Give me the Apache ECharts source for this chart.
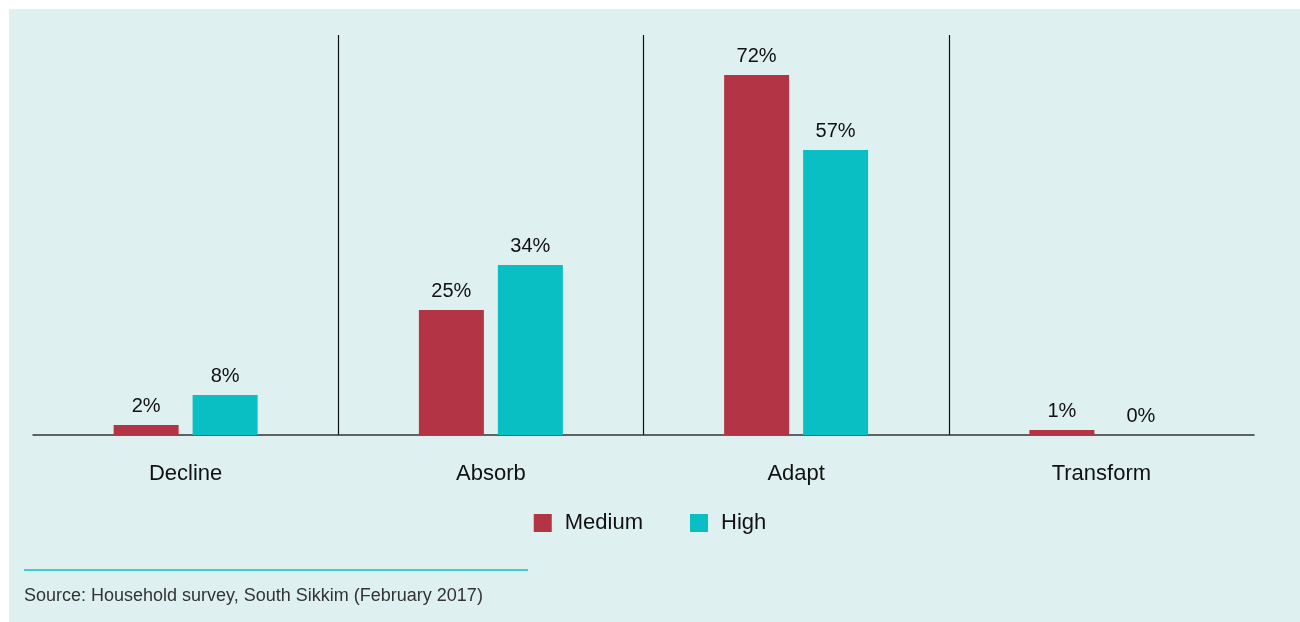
<!DOCTYPE html>
<html>
<head>
<meta charset="utf-8">
<script src="https://cdn.jsdelivr.net/npm/echarts@6/dist/echarts.min.js"></script>
<style>
  html, body { margin: 0; padding: 0; background: #ffffff; }
  #chart { width: 1300px; height: 622px; }
</style>
</head>
<body>
<div id="chart"></div>
<script>
// Resilience outcomes by capacity level (share of households)
const categories = ['Decline', 'Absorb', 'Adapt', 'Transform'];
const mediumValues = [2, 25, 72, 1];
const highValues = [8, 34, 57, 0];
const seriesNames = ['Medium', 'High'];
const sourceText = 'Source: Household survey, South Sikkim (February 2017)';

const FONT = '"Liberation Sans", Arial, Helvetica, sans-serif';
const chart = echarts.init(document.getElementById('chart'), null, { renderer: 'canvas' });

const labelStyle = {
  show: true,
  position: 'top',
  distance: 9,
  color: '#111111',
  fontSize: 20,
  fontFamily: FONT,
  formatter: p => p.value + '%'
};

chart.setOption({
  backgroundColor: 'transparent',
  animation: false,
  graphic: [
    {
      type: 'rect', z: -10, silent: true,
      shape: { x: 9, y: 9, width: 1291, height: 613 },
      style: { fill: '#dff0f0' }
    },
    {
      type: 'line', silent: true,
      shape: { x1: 24, y1: 570, x2: 528, y2: 570 },
      style: { stroke: '#10c0c8', lineWidth: 1.3 }
    },
    {
      type: 'text', silent: true,
      left: 24, top: 587,
      style: { text: sourceText, fill: '#333333', fontSize: 18, fontFamily: FONT }
    }
  ],
  grid: { left: 33, right: 46, top: 35, bottom: 187, containLabel: false },
  legend: {
    data: seriesNames,
    top: 507,
    left: 'center',
    itemWidth: 18,
    itemHeight: 18,
    itemGap: 47,
    icon: 'rect',
    textStyle: { color: '#111111', fontSize: 22, fontFamily: FONT, padding: [0, 0, 0, 8] }
  },
  xAxis: {
    type: 'category',
    data: categories,
    boundaryGap: true,
    axisLine: { show: true, lineStyle: { color: '#333333', width: 1.5 } },
    axisTick: { show: false },
    axisLabel: { color: '#111111', fontSize: 22, fontFamily: FONT, margin: 28 },
    splitLine: {
      show: true,
      showMinLine: false,
      showMaxLine: false,
      lineStyle: { color: '#111111', width: 1.2 }
    }
  },
  yAxis: {
    type: 'value',
    min: 0,
    max: 80,
    show: false,
    splitLine: { show: false }
  },
  series: [
    {
      name: seriesNames[0],
      type: 'bar',
      data: mediumValues,
      barWidth: 65,
      barGap: '21.5%',
      itemStyle: { color: '#b33444' },
      label: labelStyle
    },
    {
      name: seriesNames[1],
      type: 'bar',
      data: highValues,
      barWidth: 65,
      itemStyle: { color: '#0abfc4' },
      label: labelStyle
    }
  ]
});
</script>
</body>
</html>
